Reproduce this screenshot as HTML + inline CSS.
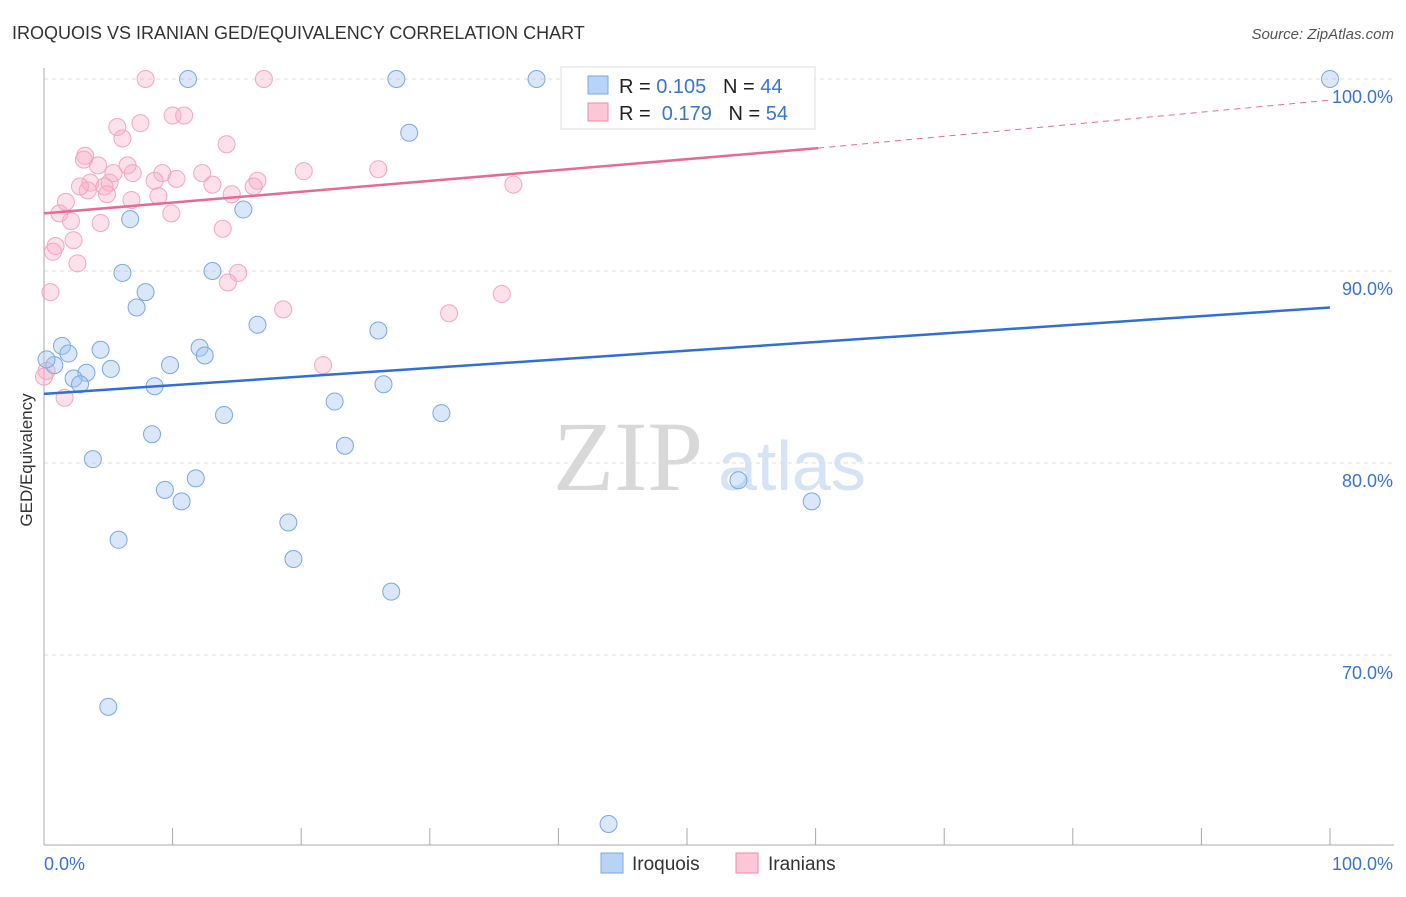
<!DOCTYPE html>
<html><head><meta charset="utf-8"><style>
body{margin:0;background:#fff;font-family:"Liberation Sans",sans-serif;}
</style></head><body>
<svg id="c" width="1406" height="892" font-family="Liberation Sans, sans-serif">
<text x="12" y="39" font-size="18" fill="#333">IROQUOIS VS IRANIAN GED/EQUIVALENCY CORRELATION CHART</text>
<text x="1394" y="39" font-size="15" fill="#555" font-style="italic" text-anchor="end">Source: ZipAtlas.com</text>
<text x="32" y="460" font-size="17" fill="#333" transform="rotate(-90 32 460)" text-anchor="middle">GED/Equivalency</text>
<text x="553" y="490" font-size="100" fill="#d8d8d8" style="font-family:'Liberation Serif',serif">ZIP</text>
<text x="718" y="490" font-size="70" fill="#d4e3f5">atlas</text>
<g id="grid"></g><g id="marks"></g>
<g>
<rect x="561" y="67" width="254" height="62" fill="#fff" stroke="#ddd"/>
<rect x="588" y="76" width="20" height="18" fill="#b8d3f5" stroke="#7aa8e6"/>
<rect x="588" y="103" width="20" height="18" fill="#fcc7d6" stroke="#f08aaa"/>
<text x="619" y="93" font-size="20" fill="#222" xml:space="preserve">R = <tspan fill="#3a72d6">0.105</tspan>   N = <tspan fill="#3a72d6">44</tspan></text>
<text x="619" y="120" font-size="20" fill="#222" xml:space="preserve">R =  <tspan fill="#3a72d6">0.179</tspan>   N = <tspan fill="#3a72d6">54</tspan></text>
</g>
<g>
<rect x="601" y="853" width="22" height="20" fill="#b8d3f5" stroke="#7aa8e6"/>
<text x="632" y="870" font-size="19" fill="#333">Iroquois</text>
<rect x="736" y="853" width="22" height="20" fill="#fcc7d6" stroke="#f08aaa"/>
<text x="768" y="870" font-size="19" fill="#333">Iranians</text>
</g>
</svg>
<script>
const yTicks=[100,90,80,70];
const blueX=[11.2,27.4,38.3,100,28.4,6.7,15.5,6.1,13.1,7.9,7.2,16.6,26,1.4,4.4,1.9,12.1,12.5,9.8,5.2,0.8,3.3,2.3,2.8,8.6,26.4,22.6,30.9,14,8.4,23.4,3.8,9.4,11.8,10.7,54,59.7,19,5.8,19.4,27,5,43.9,0.2];
const blueY=[100,100,100,100,97.2,92.7,93.2,89.9,90,88.9,88.1,87.2,86.9,86.1,85.9,85.7,86,85.6,85.1,84.9,85.1,84.7,84.4,84.1,84,84.1,83.2,82.6,82.5,81.5,80.9,80.2,78.6,79.2,78,79.1,78,76.9,76,75,73.3,67.3,61.2,85.4];
const pinkX=[7.9,17.1,52.3,10,10.9,7.5,5.7,6.1,14.2,3.2,3.1,4.2,6.5,5.4,6.9,9.2,12.3,20.2,26,10.3,3.6,5.1,2.8,3.4,4.7,8.6,13.1,16.6,16.3,36.5,4.9,14.6,8.9,6.8,1.7,1.2,9.9,2.1,4.4,13.9,2.3,0.9,0.7,2.6,15.1,14.3,0.5,35.6,18.6,31.5,21.7,1.6,0.2,0];
const pinkY=[100,100,100,98.1,98.1,97.7,97.5,96.9,96.6,96,95.8,95.5,95.5,95.1,95.1,95.1,95.1,95.2,95.3,94.8,94.6,94.6,94.4,94.2,94.4,94.7,94.5,94.7,94.4,94.5,94,94,93.9,93.7,93.6,93,93,92.6,92.5,92.2,91.6,91.3,91,90.4,89.9,89.4,88.9,88.8,88,87.8,85.1,83.4,84.8,84.5];
const blueLine=[83.6,88.1], pinkLine=[93,96.4,98.9];
const X=v=>44+v*12.86, Y=v=>79+(100-v)*19.2;
const NS='http://www.w3.org/2000/svg';
const grid=document.getElementById('grid'), marks=document.getElementById('marks');
function mk(p,tag,a){const e=document.createElementNS(NS,tag);for(const k in a)e.setAttribute(k,a[k]);p.appendChild(e);return e;}
yTicks.forEach(t=>{
 const l=mk(grid,'line',{x1:44,x2:1394,y1:Y(t),y2:Y(t),stroke:'#ddd','stroke-dasharray':'4,4'});
 
 
 const tx=mk(grid,'text',{x:1393,y:Y(t)+24,'font-size':18,fill:'#3a72d6','text-anchor':'end'});tx.textContent=t.toFixed(1)+'%';
 
 
});
mk(grid,'line',{x1:44,x2:44,y1:68,y2:845,stroke:'#aaa'});
mk(grid,'line',{x1:44,x2:1394,y1:845,y2:845,stroke:'#aaa'});
for(let i=0;i<=10;i++){mk(grid,'line',{x1:X(i*10),x2:X(i*10),y1:828,y2:845,stroke:'#aaa'});}
let t0=mk(grid,'text',{x:44,y:870,'font-size':18,fill:'#3a72d6'});t0.textContent='0.0%';


let t1=mk(grid,'text',{x:1393,y:870,'font-size':18,fill:'#3a72d6','text-anchor':'end'});t1.textContent='100.0%';


pinkX.forEach((x,i)=>{const c=mk(marks,'circle',{cx:X(x),cy:Y(pinkY[i]),r:8.5,fill:'rgba(248,170,195,0.35)',stroke:'#f3a6be','stroke-width':1});
 
 });
blueX.forEach((x,i)=>{const c=mk(marks,'circle',{cx:X(x),cy:Y(blueY[i]),r:8.5,fill:'rgba(160,195,240,0.4)',stroke:'#7aa8e6','stroke-width':1});
 
 });
let bl=mk(marks,'line',{x1:X(0),y1:Y(blueLine[0]),x2:X(100),y2:Y(blueLine[1]),stroke:'#2f6fd6','stroke-width':2.5});


let pl=mk(marks,'line',{x1:X(0),y1:Y(pinkLine[0]),x2:X(60.2),y2:Y(pinkLine[1]),stroke:'#e86a93','stroke-width':2.5});


let pd=mk(marks,'line',{x1:X(60.2),y1:Y(pinkLine[1]),x2:X(100),y2:Y(pinkLine[2]),stroke:'#e86a93','stroke-width':1,'stroke-dasharray':'6,5'});


</script>
</body></html>
